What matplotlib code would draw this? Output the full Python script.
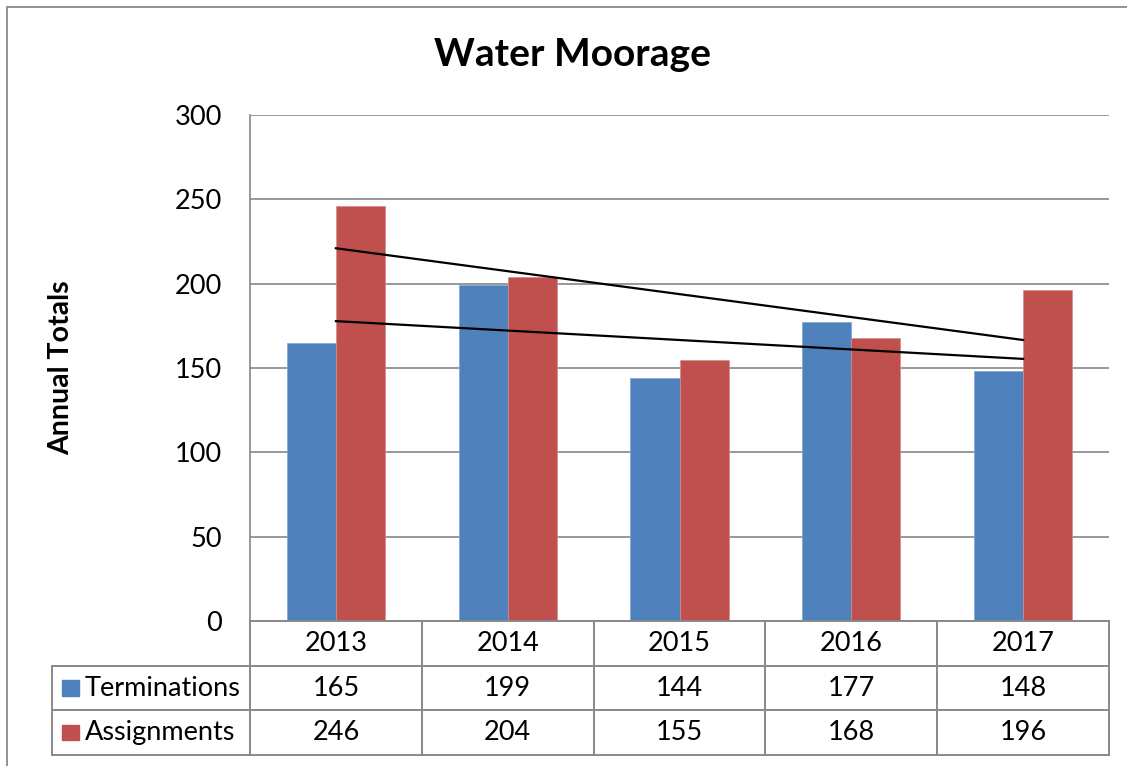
import numpy as np
import matplotlib.pyplot as plt
from matplotlib.patches import Rectangle

### Data ###
years = ["2013", "2014", "2015", "2016", "2017"]
terminations = [165, 199, 144, 177, 148]
assignments = [246, 204, 155, 168, 196]
series_names = ["Terminations", "Assignments"]
yticks = [0, 50, 100, 150, 200, 250, 300]

blue = "#4F81BD"
red = "#C0504D"
grid_col = "#868686"
border_col = "#898989"

plt.rcParams['font.family'] = ['Lato', 'DejaVu Sans']

W, H = 1127, 766
fig = plt.figure(figsize=(W / 100, H / 100), dpi=100)

def px_box(x0, y0, x1, y1):
    # pixel box (top-left origin) -> figure fraction rect
    return [x0 / W, 1 - y1 / H, (x1 - x0) / W, (y1 - y0) / H]

# outer chart border (only left/top visible in reference)
fig.patches.append(Rectangle((7 / W, -0.05), 1.2, 1 - 7 / H + 0.05,
                             transform=fig.transFigure, fill=False,
                             edgecolor=border_col, lw=1.3))

# main plot area
ax = fig.add_axes(px_box(250, 115, 1109, 621))
x = np.arange(len(years))
bw = 1 / 3.5
ax.bar(x - bw / 2, terminations, bw, color=blue, edgecolor="#7fa3d0", lw=0.5, zorder=3)
ax.bar(x + bw / 2, assignments, bw, color=red, edgecolor="#d98a88", lw=0.5, zorder=3)

# linear trendlines
for vals in (assignments, terminations):
    k, b = np.polyfit(x, vals, 1)
    ax.plot(x, k * x + b, color="black", lw=1.6, zorder=4)

ax.set_xlim(-0.5, len(years) - 0.5)
ax.set_ylim(0, 300)
ax.set_yticks(yticks)
ax.set_xticks([])
ax.yaxis.grid(True, color=grid_col, lw=1.2, zorder=0)
ax.tick_params(axis="y", length=0, pad=20, labelsize=19.5)
for s in ("top", "right", "bottom"):
    ax.spines[s].set_visible(False)
ax.spines["left"].set_color(grid_col)
ax.spines["left"].set_linewidth(1.2)

fig.text(61 / W, 1 - 368 / H, "Annual Totals", rotation=90, fontsize=20.5,
         fontweight="bold", ha="center", va="center")
fig.text(572 / W, 1 - 55 / H, "Water Moorage", fontsize=28,
         fontweight="bold", ha="center", va="center")

# data table under the chart
cat_px = 859 / len(years)
left_units = -0.5 - 198 / cat_px
tax = fig.add_axes(px_box(52, 621, 1109, 755))
tax.set_xlim(left_units, len(years) - 0.5)
tax.set_ylim(3, 0)
tax.axis("off")

lw_t = 1.4
# horizontal lines
tax.plot([-0.5, len(years) - 0.5], [0, 0], color=border_col, lw=lw_t, clip_on=False)
for r in (1, 2, 3):
    tax.plot([left_units, len(years) - 0.5], [r, r], color=border_col, lw=lw_t, clip_on=False)
# vertical lines
for c in range(len(years) + 1):
    tax.plot([c - 0.5, c - 0.5], [0, 3], color=border_col, lw=lw_t, clip_on=False)
tax.plot([left_units, left_units], [1, 3], color=border_col, lw=lw_t, clip_on=False)

for i, yr in enumerate(years):
    tax.text(i, 0.5, yr, ha="center", va="center", fontsize=19.5)
rows = [terminations, assignments]
cols = [blue, red]
for r, (name, vals, col) in enumerate(zip(series_names, rows, cols), start=1):
    for i, v in enumerate(vals):
        tax.text(i, r + 0.5, str(v), ha="center", va="center", fontsize=19.5)
    sq = 17 / cat_px
    tax.add_patch(Rectangle((left_units + 10 / cat_px, r + 0.5 - 0.17), sq, 0.34,
                            color=col, clip_on=False))
    tax.text(left_units + 33 / cat_px, r + 0.5, name, ha="left", va="center",
             fontsize=19.5)

fig.savefig("out.png", dpi=100)
